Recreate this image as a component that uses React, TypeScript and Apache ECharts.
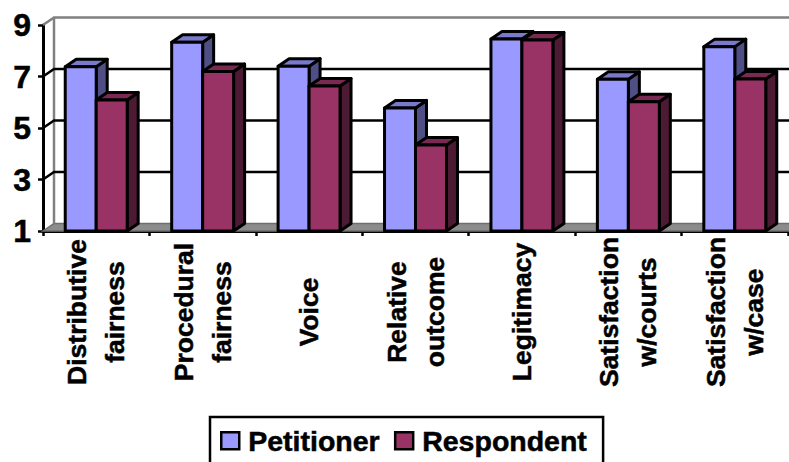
import React, { useEffect, useRef } from "react";
import * as echarts from "echarts";

const categories = [
  "Distributive\nfairness",
  "Procedural\nfairness",
  "Voice",
  "Relative\noutcome",
  "Legitimacy",
  "Satisfaction\nw/courts",
  "Satisfaction\nw/case",
];
const petitioner = [7.38, 8.33, 7.4, 5.78, 8.46, 6.89, 8.16];
const respondent = [6.09, 7.19, 6.63, 4.34, 8.42, 6.02, 6.9];
const wallLevels = [3, 5, 7];
const yTicks = [1, 3, 5, 7, 9];
const yMin = 1;
const yMax = 9;

const DEPTH_X = 11;
const DEPTH_Y = 7.5;
const FONT = '"Liberation Sans", Arial, sans-serif';
const STROKE = { stroke: "#000", lineWidth: 3, lineJoin: "round" as const };
const HEAVY_TEXT = { textBorderColor: "#000", textBorderWidth: 0.5 };

// Back wall, side wall and floor of the pseudo-3D plot box.
function renderWall(params: any, api: any) {
  const sys = params.coordSys;
  const left = sys.x;
  const right = sys.x + sys.width;
  const y = (v: number) => api.coord([0, v])[1];
  const base = y(yMin);
  const top = y(yMax);
  const level = api.value(0);
  const children: any[] = [];
  if (params.dataIndex === 0) {
    children.push(
      {
        type: "polygon",
        shape: {
          points: [
            [left, base],
            [left + DEPTH_X, base - DEPTH_Y],
            [right + DEPTH_X, base - DEPTH_Y],
            [right + DEPTH_X, base],
          ],
        },
        style: { fill: "#8c8c8c", stroke: "#6e6e6e", lineWidth: 1.5 },
      },
      {
        type: "polyline",
        shape: {
          points: [
            [left, top],
            [left + DEPTH_X, top - DEPTH_Y],
            [right + DEPTH_X, top - DEPTH_Y],
          ],
        },
        style: { fill: "none", stroke: "#808080", lineWidth: 2.5 },
      },
      {
        type: "line",
        shape: { x1: left + DEPTH_X, y1: top - DEPTH_Y, x2: left + DEPTH_X, y2: base - DEPTH_Y },
        style: { stroke: "#808080", lineWidth: 2.5 },
      }
    );
  }
  const ly = y(level);
  children.push({
    type: "polyline",
    shape: {
      points: [
        [left, ly],
        [left + DEPTH_X, ly - DEPTH_Y],
        [right + DEPTH_X, ly - DEPTH_Y],
      ],
    },
    style: { fill: "none", stroke: "#000", lineWidth: 2.5 },
  });
  return { type: "group", children };
}

// One cuboid column: front face, top face and right-hand face.
function makeBar(slot: number, front: string, topFace: string, sideFace: string) {
  return (_params: any, api: any) => {
    const band = api.size([1, 0])[0];
    const w = band * 0.291;
    const pt = api.coord([api.value(0), api.value(1)]);
    const x0 = pt[0] + slot * w;
    const x1 = x0 + w;
    const yTop = pt[1];
    const yBase = api.coord([api.value(0), yMin])[1];
    return {
      type: "group",
      children: [
        {
          type: "polygon",
          shape: {
            points: [
              [x1, yTop],
              [x1 + DEPTH_X, yTop - DEPTH_Y],
              [x1 + DEPTH_X, yBase - DEPTH_Y],
              [x1, yBase],
            ],
          },
          style: { fill: sideFace, ...STROKE },
        },
        {
          type: "polygon",
          shape: {
            points: [
              [x0, yTop],
              [x0 + DEPTH_X, yTop - DEPTH_Y],
              [x1 + DEPTH_X, yTop - DEPTH_Y],
              [x1, yTop],
            ],
          },
          style: { fill: topFace, ...STROKE },
        },
        {
          type: "rect",
          shape: { x: x0, y: yTop, width: w, height: yBase - yTop },
          style: { fill: front, ...STROKE },
        },
      ],
    };
  };
}

export default function App() {
  const ref = useRef<HTMLDivElement>(null);

  useEffect(() => {
    const chart = echarts.init(ref.current!, undefined, { renderer: "svg" });
    chart.setOption({
      animation: false,
      backgroundColor: "#fff",
      grid: { left: 43, right: 1, top: 25, bottom: 231, containLabel: false },
      xAxis: {
        type: "category",
        data: categories,
        axisLine: { onZero: false, lineStyle: { color: "#000", width: 3 } },
        axisTick: { show: true, interval: 0, length: 5, lineStyle: { color: "#000", width: 2.5 } },
        axisLabel: {
          interval: 0,
          rotate: 90,
          align: "center",
          verticalAlign: "middle",
          margin: 81,
          color: "#000",
          fontFamily: FONT,
          fontWeight: "bold",
          fontSize: 26.5,
          lineHeight: 38,
          ...HEAVY_TEXT,
        },
        splitLine: { show: false },
      },
      yAxis: {
        type: "value",
        min: yMin,
        max: yMax,
        interval: 1,
        axisLine: { show: true, lineStyle: { color: "#000", width: 3 } },
        axisTick: { show: true, length: 5, customValues: yTicks, lineStyle: { color: "#000", width: 2.5 } },
        axisLabel: {
          customValues: yTicks,
          margin: 12,
          color: "#000",
          fontFamily: FONT,
          fontWeight: "bold",
          fontSize: 32,
          ...HEAVY_TEXT,
        },
        splitLine: { show: false },
      },
      legend: {
        left: 210,
        top: 417,
        padding: [9, 16, 40, 10],
        itemWidth: 18,
        itemHeight: 17,
        itemGap: 14,
        icon: "rect",
        borderColor: "#000",
        borderWidth: 2.5,
        backgroundColor: "#fff",
        textStyle: {
          color: "#000",
          fontFamily: FONT,
          fontWeight: "bold",
          fontSize: 28.5,
          padding: [0, 0, 0, 4],
          ...HEAVY_TEXT,
        },
        data: [
          { name: "Petitioner", itemStyle: { color: "#9999FF", borderColor: "#000", borderWidth: 2.5 } },
          { name: "Respondent", itemStyle: { color: "#993366", borderColor: "#000", borderWidth: 2.5 } },
        ],
      },
      series: [
        {
          type: "custom",
          name: "wall",
          silent: true,
          z: 1,
          renderItem: renderWall,
          data: wallLevels.map((v) => [v]),
          encode: { y: 0 },
        },
        {
          type: "custom",
          name: "Petitioner",
          z: 3,
          itemStyle: { color: "#9999FF" },
          renderItem: makeBar(-1, "#9999FF", "#7A7ACC", "#4F4F85"),
          data: petitioner.map((v, i) => [i, v]),
          encode: { x: 0, y: 1 },
        },
        {
          type: "custom",
          name: "Respondent",
          z: 4,
          itemStyle: { color: "#993366" },
          renderItem: makeBar(0, "#993366", "#7A2952", "#4D1A33"),
          data: respondent.map((v, i) => [i, v]),
          encode: { x: 0, y: 1 },
        },
      ],
    });
    return () => chart.dispose();
  }, []);

  return (
    <div
      ref={ref}
      style={{ position: "fixed", left: 0, top: 0, width: 789, height: 462 }}
    />
  );
}
